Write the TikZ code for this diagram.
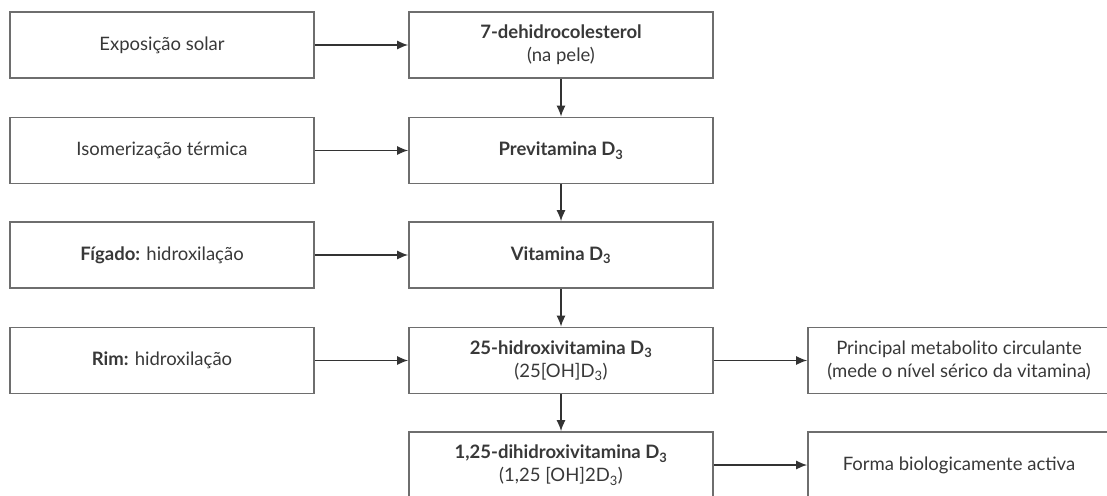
\documentclass[tikz,border=0pt]{standalone}
\usepackage{fontspec}
\setmainfont{Lato}
\usetikzlibrary{arrows.meta}
\definecolor{boxgray}{HTML}{6E6E6E}
\definecolor{arrowgray}{HTML}{333333}
\definecolor{textgray}{HTML}{383838}
\tikzset{
  box/.style={draw=boxgray, line width=1.7pt, minimum width=304pt, minimum height=66pt,
    align=center, inner sep=0pt, font=\fontsize{18.5}{23}\selectfont, text=textgray},
  rbox/.style={box, minimum width=302pt},
  flow/.style={draw=arrowgray, line width=1.4pt, -{Latex[length=11pt,width=9pt]}}
}
\begin{document}
\begin{tikzpicture}[x=1pt,y=-1pt]
\clip (0,0) rectangle (1107,495);
% left column
\node[box] (sol) at (162,45) {Exposição solar};
\node[box] (iso) at (162,150.5) {Isomerização térmica};
\node[box] (fig) at (162,255) {\textbf{Fígado:} hidroxilação};
\node[box] (rim) at (162,360.5) {\textbf{Rim:} hidroxilação};
% middle column
\node[box] (dhc) at (561,45) {\textbf{7-dehidrocolesterol}\\(na pele)};
\node[box] (pre) at (561,150.5) {\textbf{Previtamina D\textsubscript{3}}};
\node[box] (vit) at (561,255) {\textbf{Vitamina D\textsubscript{3}}};
\node[box] (hid) at (561,360.5) {\textbf{25-hidroxivitamina D\textsubscript{3}}\\(25[OH]D\textsubscript{3})};
\node[box] (dih) at (561,465) {\textbf{1,25-dihidroxivitamina D\textsubscript{3}}\\(1,25 [OH]2D\textsubscript{3})};
% right column
\node[rbox] (circ) at (959,360.5) {Principal metabolito circulante\\(mede o nível sérico da vitamina)};
\node[rbox] (act) at (959,465) {Forma biologicamente activa};
% arrows
\draw[flow] (sol) -- (dhc);
\draw[flow] (iso) -- (pre);
\draw[flow] (fig) -- (vit);
\draw[flow] (rim) -- (hid);
\draw[flow] (dhc) -- (pre);
\draw[flow] (pre) -- (vit);
\draw[flow] (vit) -- (hid);
\draw[flow] (hid) -- (dih);
\draw[flow] (hid) -- (circ);
\draw[flow] (dih) -- (act);
\end{tikzpicture}
\end{document}
